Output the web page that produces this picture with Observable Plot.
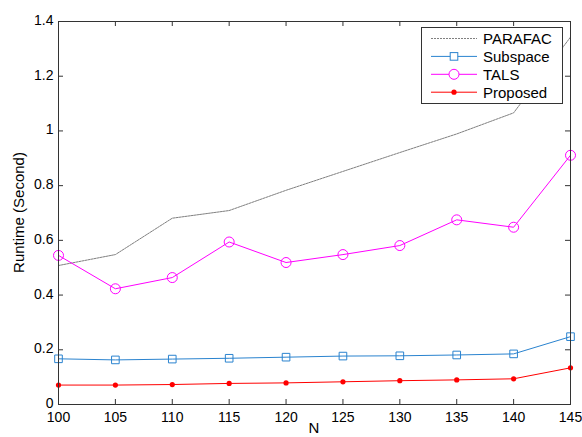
<!DOCTYPE html>
<html><head><meta charset="utf-8">
<script src="https://cdn.jsdelivr.net/npm/d3@7"></script>
<script src="https://cdn.jsdelivr.net/npm/@observablehq/plot@0.6"></script>
<style>
body{margin:0;background:#fff;}
#chart{position:relative;width:582px;height:437px;overflow:hidden;}
</style>
</head><body><div id="chart"></div>
<script>
const N = [100, 105, 110, 115, 120, 125, 130, 135, 140, 145];
const parafac  = [0.508, 0.548, 0.681, 0.709, 0.783, 0.852, 0.921, 0.989, 1.066, 1.343];
const subspace = [0.167, 0.163, 0.166, 0.169, 0.173, 0.177, 0.178, 0.181, 0.185, 0.248];
const tals     = [0.545, 0.423, 0.464, 0.594, 0.519, 0.548, 0.581, 0.675, 0.648, 0.911];
const proposed = [0.071, 0.071, 0.073, 0.077, 0.079, 0.083, 0.087, 0.090, 0.094, 0.134];
const seriesNames = ["PARAFAC", "Subspace", "TALS", "Proposed"];
const seriesColors = ["#808080", "#2a83cf", "#ff00ff", "#ff0000"];
const xTicks = [100, 105, 110, 115, 120, 125, 130, 135, 140, 145];
const yTicks = [0, 0.2, 0.4, 0.6, 0.8, 1, 1.2, 1.4];
const xLabel = "N";
const yLabel = "Runtime (Second)";

const allValues = [parafac, subspace, tals, proposed];
const rows = [];
seriesNames.forEach((s, i) => N.forEach((n, j) => rows.push({series: s, n, v: allValues[i][j]})));
const of = s => rows.filter(d => d.series === s);

const W = 582, H = 437, ML = 58, MR = 12, MT = 21, MB = 33;
const PW = W - ML - MR, PH = H - MT - MB, TK = 5;
const font = "'Liberation Sans', Arial, sans-serif";
const plot = Plot.plot({
  width: W, height: H,
  marginLeft: ML, marginRight: MR, marginTop: MT, marginBottom: MB,
  style: {fontFamily: font, fontSize: "14px", color: "#000", background: "#fff"},
  x: {domain: [100, 145]},
  y: {domain: [0, 1.4]},
  marks: [
    Plot.axisX({ticks: xTicks, tickSize: 0, tickPadding: 8, label: null, tickFormat: d => String(d), fill: "#000"}),
    Plot.axisY({ticks: yTicks, tickSize: 0, tickPadding: 5, label: null, tickFormat: d => String(d), fill: "#000", dy: -1}),
    Plot.tickX(xTicks, {x: d => d, insetTop: PH - TK, stroke: "#333"}),
    Plot.tickX(xTicks, {x: d => d, insetBottom: PH - TK, stroke: "#333"}),
    Plot.tickY(yTicks, {y: d => d, insetRight: PW - TK, stroke: "#333"}),
    Plot.tickY(yTicks, {y: d => d, insetLeft: PW - TK, stroke: "#333"}),
    Plot.line(of("PARAFAC"), {x: "n", y: "v", stroke: seriesColors[0], strokeWidth: 1, strokeDasharray: "2,1"}),
    Plot.line(of("TALS"), {x: "n", y: "v", stroke: seriesColors[2], strokeWidth: 1}),
    Plot.dot(of("TALS"), {x: "n", y: "v", stroke: seriesColors[2], fill: "none", r: 5, strokeWidth: 1}),
    Plot.line(of("Subspace"), {x: "n", y: "v", stroke: seriesColors[1], strokeWidth: 1}),
    Plot.dot(of("Subspace"), {x: "n", y: "v", stroke: seriesColors[1], fill: "none", symbol: "square", r: 4.3, strokeWidth: 1}),
    Plot.line(of("Proposed"), {x: "n", y: "v", stroke: seriesColors[3], strokeWidth: 1}),
    Plot.dot(of("Proposed"), {x: "n", y: "v", fill: seriesColors[3], stroke: "none", r: 2.6}),
    Plot.frame({stroke: "#333", strokeWidth: 1})
  ]
});
document.getElementById("chart").appendChild(plot);

const svg = d3.select(plot);
// axis titles
svg.append("text").attr("transform", "translate(18,212.5) rotate(-90)")
  .attr("text-anchor", "middle").attr("dominant-baseline", "central")
  .attr("font-family", font).attr("font-size", 15).attr("fill", "#000").text(yLabel);
svg.append("text").attr("x", 314).attr("y", 433).attr("text-anchor", "middle")
  .attr("font-family", font).attr("font-size", 15).attr("fill", "#000").text(xLabel);

// legend
const lg = svg.append("g").attr("text-anchor", "start");
lg.append("rect").attr("x", 421.5).attr("y", 27.5).attr("width", 141).attr("height", 76)
  .attr("fill", "#fff").attr("stroke", "#333").attr("stroke-width", 1);
seriesNames.forEach((s, i) => {
  const y = 38.5 + i * 17.9;
  lg.append("line").attr("x1", 431).attr("x2", 477).attr("y1", y).attr("y2", y)
    .attr("stroke", seriesColors[i]).attr("stroke-width", 1)
    .attr("stroke-dasharray", i === 0 ? "2,1" : null);
  if (i === 1) lg.append("rect").attr("x", 450.2).attr("y", y - 3.8).attr("width", 7.6).attr("height", 7.6)
    .attr("fill", "#fff").attr("stroke", seriesColors[i]);
  if (i === 2) lg.append("circle").attr("cx", 454).attr("cy", y).attr("r", 5)
    .attr("fill", "#fff").attr("stroke", seriesColors[i]);
  if (i === 3) lg.append("circle").attr("cx", 454).attr("cy", y).attr("r", 2.6).attr("fill", seriesColors[i]);
  lg.append("text").attr("x", 483).attr("y", y).attr("text-anchor", "start").attr("dominant-baseline", "central")
    .attr("font-family", font).attr("font-size", 15).attr("fill", "#000").text(s);
});
</script>
</body></html>
